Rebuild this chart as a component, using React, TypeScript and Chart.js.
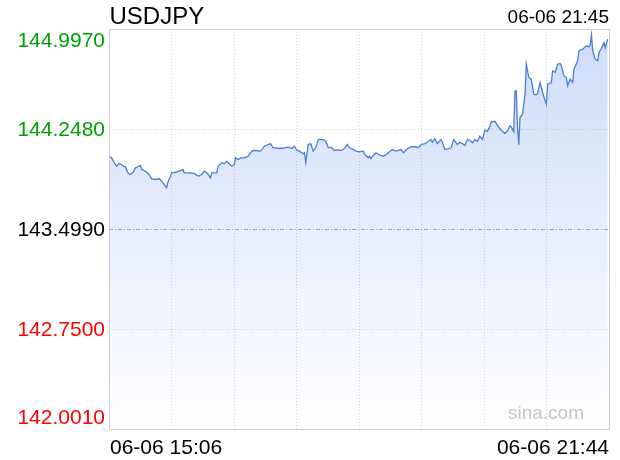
import React, { useEffect, useRef } from 'react';
import { Chart, registerables } from 'chart.js';

Chart.register(...registerables);

const symbol = 'USDJPY';
const headerTime = '06-06 21:45';
const startLabel = '06-06 15:06';
const endLabel = '06-06 21:44';
const watermark = 'sina.com';
const prevClose = 143.499;
const yTicks = [142.001, 142.75, 143.499, 144.248, 144.997];
const sessionMinutes = 399;

// minutes since 15:06
const minutes = [0,2,6,8,10,12,13,15,17,19,21,24,25,26,29,30,32,34,37,40,42,45,46,47,49,50,53,56,59,60,64,68,70,72,74,76,78,81,82,86,87,90,92,94,95,98,100,101,103,105,108,111,113,115,117,121,124,127,129,131,133,136,140,143,146,148,150,152,155,156,157,159,161,163,165,167,171,173,175,177,180,183,185,188,190,192,195,197,200,203,204,207,208,209,211,213,216,219,222,226,229,233,235,238,241,245,247,249,252,254,257,258,260,262,265,266,268,270,273,275,278,280,282,284,286,288,290,292,294,296,298,300,302,304,305,308,310,313,316,318,320,321,323,324,325,326,327,328,330,332,333,335,337,339,341,342,344,345,346,348,349,350,353,354,356,358,360,361,363,365,366,368,370,371,374,375,378,381,383,384,385,386,388,390,391,393,395,396,398];

const prices = [144.044,144.032,143.969,143.990,143.982,143.965,143.969,143.920,143.907,143.920,
143.957,143.969,143.975,143.945,143.932,143.924,143.907,143.875,143.870,143.875,
143.857,143.820,143.808,143.850,143.895,143.920,143.924,143.932,143.945,143.920,
143.920,143.915,143.900,143.895,143.907,143.932,143.920,143.883,143.920,143.920,
143.969,143.995,143.987,144.007,143.995,143.969,143.982,144.032,144.020,144.032,
144.032,144.044,144.070,144.087,144.087,144.082,144.119,144.132,144.137,144.107,
144.107,144.102,144.107,144.112,144.102,144.119,144.087,144.082,144.062,144.070,
143.997,144.132,144.137,144.082,144.107,144.169,144.169,144.157,144.107,144.112,
144.087,144.094,144.087,144.102,144.132,144.107,144.094,144.082,144.077,144.082,
144.057,144.032,144.044,144.027,144.052,144.070,144.052,144.044,144.062,144.094,
144.082,144.094,144.070,144.100,144.115,144.115,144.107,144.132,144.139,144.149,
144.169,144.149,144.175,144.139,144.169,144.149,144.094,144.100,144.107,144.169,
144.132,144.149,144.139,144.124,144.169,144.164,144.145,144.169,144.157,144.194,
144.169,144.239,144.232,144.269,144.302,144.306,144.274,144.239,144.214,144.235,
144.272,144.264,144.229,144.534,144.534,144.259,144.130,144.334,144.359,144.509,
144.733,144.634,144.621,144.509,144.504,144.514,144.596,144.559,144.521,144.459,
144.434,144.584,144.596,144.684,144.671,144.733,144.739,144.721,144.647,144.634,
144.572,144.621,144.596,144.696,144.759,144.834,144.846,144.871,144.864,144.879,
144.954,144.834,144.771,144.759,144.821,144.853,144.896,144.858,144.921];

const FONT = '"Liberation Sans", Arial, Helvetica, sans-serif';

const decorPlugin = {
  id: 'decor',
  beforeDatasetsDraw(chart: any) {
    const { ctx, chartArea, scales } = chart;
    ctx.save();
    // previous close line
    const y = Math.round(scales.y.getPixelForValue(prevClose)) + 0.5;
    ctx.strokeStyle = '#a3a3c2';
    ctx.lineWidth = 1;
    ctx.setLineDash([4, 2, 1, 2]);
    ctx.beginPath();
    ctx.moveTo(chartArea.left, y);
    ctx.lineTo(chartArea.right, y);
    ctx.stroke();
    ctx.restore();
  },
  afterDraw(chart: any) {
    const { ctx, chartArea, scales } = chart;
    ctx.save();
    // frame
    ctx.strokeStyle = '#cfcfcf';
    ctx.lineWidth = 1;
    ctx.setLineDash([]);
    ctx.strokeRect(chartArea.left + 0.5, chartArea.top + 0.5, chartArea.right - chartArea.left, chartArea.bottom - chartArea.top);

    // y labels
    ctx.font = `21px ${FONT}`;
    ctx.textAlign = 'right';
    ctx.textBaseline = 'alphabetic';
    yTicks.forEach((v, i) => {
      const py = scales.y.getPixelForValue(v);
      let by = py + 7;
      if (i === yTicks.length - 1) by = py + 18;
      if (i === 0) by = py - 5;
      const diff = v - prevClose;
      ctx.fillStyle = Math.abs(diff) < 1e-6 ? '#000000' : diff > 0 ? '#00a000' : '#ff0000';
      ctx.fillText(v.toFixed(4), 105, by);
    });

    // header
    ctx.fillStyle = '#000000';
    ctx.textAlign = 'left';
    ctx.font = `24px ${FONT}`;
    ctx.fillText(symbol, chartArea.left + 0.5, 24);
    ctx.textAlign = 'right';
    ctx.font = `19px ${FONT}`;
    ctx.fillText(headerTime, chartArea.right, 23);

    // x labels
    ctx.font = `21px ${FONT}`;
    ctx.textAlign = 'left';
    ctx.fillText(startLabel, chartArea.left + 1, 454);
    ctx.textAlign = 'right';
    ctx.fillText(endLabel, chartArea.right, 454);

    // watermark
    ctx.fillStyle = '#c6c6c6';
    ctx.font = `19px ${FONT}`;
    ctx.fillText(watermark, chartArea.right - 25, 419);
    ctx.restore();
  },
};

export default function App() {
  const ref = useRef<HTMLCanvasElement>(null);
  useEffect(() => {
    const data = minutes.map((m, i) => ({ x: m, y: prices[i] }));
    const chart = new Chart(ref.current as HTMLCanvasElement, {
      type: 'line',
      data: {
        datasets: [
          {
            data,
            borderColor: '#4a7dd6',
            borderWidth: 1.3,
            pointRadius: 0,
            tension: 0,
            fill: 'start',
            backgroundColor: (c: any) => {
              const area = c.chart.chartArea;
              if (!area) return 'rgba(74,124,230,0.2)';
              const g = c.chart.ctx.createLinearGradient(0, area.top, 0, area.bottom);
              g.addColorStop(0, 'rgba(74,124,230,0.27)');
              g.addColorStop(1, 'rgba(74,124,230,0)');
              return g;
            },
          },
        ],
      },
      options: {
        responsive: false,
        animation: false,
        events: [],
        layout: { padding: { left: 109, top: 29, right: 11, bottom: 31 } },
        plugins: { legend: { display: false }, tooltip: { enabled: false }, title: { display: false } },
        scales: {
          x: {
            type: 'linear',
            min: 0,
            max: sessionMinutes,
            afterBuildTicks: (axis: any) => {
              axis.ticks = Array.from({ length: 9 }, (_, i) => ({ value: (i * sessionMinutes) / 8 }));
            },
            ticks: { display: false },
            grid: { color: '#d6d6d6', drawTicks: false, lineWidth: 1 },
            border: { display: false, dash: [1, 2] },
          },
          y: {
            type: 'linear',
            min: yTicks[0],
            max: yTicks[yTicks.length - 1],
            afterBuildTicks: (axis: any) => {
              axis.ticks = yTicks.map((v) => ({ value: v }));
            },
            ticks: { display: false },
            grid: {
              color: (c: any) => (c.tick && Math.abs(c.tick.value - prevClose) < 1e-6 ? 'rgba(0,0,0,0)' : '#d6d6d6'),
              drawTicks: false,
              lineWidth: 1,
            },
            border: { display: false, dash: [1, 2] },
          },
        },
      },
      plugins: [decorPlugin],
    });
    return () => chart.destroy();
  }, []);
  return (
    <div style={{ position: 'fixed', left: 0, top: 0, width: 620, height: 460, background: '#ffffff' }}>
      <canvas ref={ref} width={620} height={460} style={{ width: 620, height: 460, display: 'block' }} />
    </div>
  );
}
